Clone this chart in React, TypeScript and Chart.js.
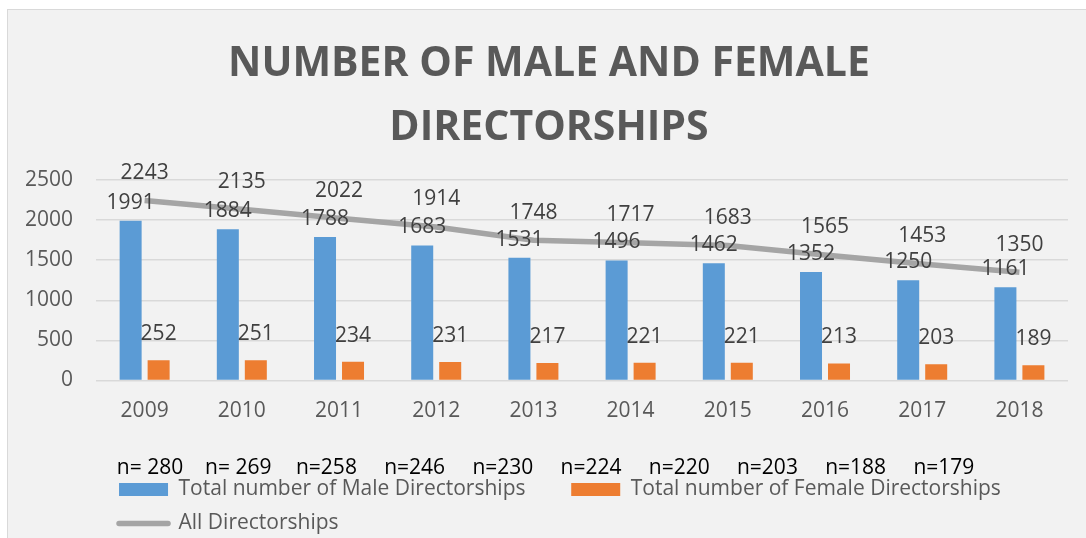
import React, { useEffect, useRef } from 'react';
import { Chart, registerables } from 'chart.js';

Chart.register(...registerables);

const years = ['2009', '2010', '2011', '2012', '2013', '2014', '2015', '2016', '2017', '2018'];
const maleDirectorships = [1991, 1884, 1788, 1683, 1531, 1496, 1462, 1352, 1250, 1161];
const femaleDirectorships = [252, 251, 234, 231, 217, 221, 221, 213, 203, 189];
const allDirectorships = [2243, 2135, 2022, 1914, 1748, 1717, 1683, 1565, 1453, 1350];
const companyCounts = ['n= 280', 'n= 269', 'n=258', 'n=246', 'n=230', 'n=224', 'n=220', 'n=203', 'n=188', 'n=179'];
const seriesNames = [
  'Total number of Male Directorships',
  'Total number of Female Directorships',
  'All Directorships',
];
const titleLines = ['NUMBER OF MALE AND FEMALE', 'DIRECTORSHIPS'];
const yMin = 0;
const yMax = 2500;
const yStep = 500;

const FONT = "'Open Sans', sans-serif";
const TEXT = '#595959';
const LABEL = '#404040';
const BLUE = '#5B9BD5';
const ORANGE = '#ED7D31';
const GRAY = '#A5A5A5';

const valueLabels = {
  id: 'valueLabels',
  afterDatasetsDraw(chart: any) {
    const ctx = chart.ctx;
    const offsets = [18, 26, 27.5];
    ctx.save();
    ctx.font = `21px ${FONT}`;
    ctx.fillStyle = LABEL;
    ctx.textAlign = 'center';
    ctx.textBaseline = 'middle';
    chart.data.datasets.forEach((ds: any, di: number) => {
      const meta = chart.getDatasetMeta(di);
      meta.data.forEach((el: any, i: number) => {
        ctx.fillText(String(ds.data[i]), el.x, el.y - offsets[di]);
      });
    });
    ctx.restore();
  },
};

const countLabels = {
  id: 'countLabels',
  afterDraw(chart: any) {
    const ctx = chart.ctx;
    const area = chart.chartArea;
    ctx.save();
    ctx.font = `21px ${FONT}`;
    ctx.fillStyle = '#000000';
    ctx.textAlign = 'center';
    ctx.textBaseline = 'middle';
    companyCounts.forEach((t, i) => {
      ctx.fillText(t, area.left + 54 + i * 88.2, area.bottom + 88);
    });
    ctx.restore();
  },
};

const boxShift = {
  id: 'boxShift',
  afterLayout(chart: any) {
    if (chart.legend) {
      chart.legend.left += 10;
      chart.legend.right += 10;
    }
    if (chart.titleBlock) {
      chart.titleBlock.left += 14;
      chart.titleBlock.right += 14;
    }
  },
};

export default function App() {
  const ref = useRef<HTMLCanvasElement | null>(null);

  useEffect(() => {
    if (!ref.current) return;
    const chart = new Chart(ref.current, {
      type: 'bar',
      data: {
        labels: years,
        datasets: [
          {
            type: 'bar',
            label: seriesNames[0],
            data: maleDirectorships,
            backgroundColor: BLUE,
            categoryPercentage: 0.576,
            barPercentage: 0.786,
          },
          {
            type: 'bar',
            label: seriesNames[1],
            data: femaleDirectorships,
            backgroundColor: ORANGE,
            categoryPercentage: 0.576,
            barPercentage: 0.786,
          },
          {
            type: 'line',
            label: seriesNames[2],
            data: allDirectorships,
            borderColor: GRAY,
            backgroundColor: GRAY,
            borderWidth: 5.5,
            pointRadius: 0,
            tension: 0,
            fill: false,
          } as any,
        ],
      },
      options: {
        responsive: false,
        animation: false,
        layout: { padding: { top: 10, left: 2, right: 18, bottom: 0 } },
        scales: {
          x: {
            grid: { display: false, drawTicks: false },
            border: { display: false },
            ticks: { color: TEXT, font: { family: FONT, size: 21 }, padding: 18 },
            afterFit(scale: any) {
              scale.height += 24.3;
            },
          },
          y: {
            min: yMin,
            max: yMax,
            ticks: {
              stepSize: yStep,
              color: TEXT,
              font: { family: FONT, size: 21 },
              padding: 23,
              callback: (v: any) => String(v),
            },
            grid: { color: '#D9D9D9', lineWidth: 1.5, drawTicks: false },
            border: { display: false },
          },
        },
        plugins: {
          title: {
            display: true,
            text: titleLines,
            color: TEXT,
            font: { family: FONT, size: 41, weight: 'bold', lineHeight: 1.56 },
            padding: { top: 22, bottom: 20 },
          },
          legend: {
            display: true,
            position: 'bottom',
            align: 'start',
            fullSize: false,
            labels: {
              color: TEXT,
              font: { family: FONT, size: 21 },
              padding: 13,
              usePointStyle: true,
              pointStyleWidth: 49,
              boxWidth: 49,
              boxHeight: 13,
              generateLabels(chart: any) {
                const items = (Chart.defaults.plugins.legend.labels as any).generateLabels(chart);
                return items.map((it: any, i: number) => {
                  if (i === 2) {
                    return { ...it, pointStyle: 'line', lineWidth: 5.5, strokeStyle: GRAY, fillStyle: GRAY, lineCap: 'round' };
                  }
                  return {
                    ...it,
                    text: i === 0 ? it.text + '      ' : it.text,
                    pointStyle: 'rect',
                    lineWidth: 0,
                  };
                });
              },
            },
          },
          tooltip: { enabled: false },
        },
      },
      plugins: [valueLabels, countLabels, boxShift],
    } as any);
    return () => chart.destroy();
  }, []);

  return (
    <div style={{ position: 'fixed', left: 0, top: 0, width: 1086, height: 538, overflow: 'hidden', background: '#ffffff' }}>
      <div
        style={{
          position: 'absolute',
          left: 7,
          top: 9,
          width: 1100,
          height: 560,
          background: '#F2F2F2',
          border: '1px solid #D9D9D9',
          boxSizing: 'border-box',
        }}
      />
      <canvas ref={ref} width={1086} height={544} style={{ position: 'absolute', left: 0, top: 0 }} />
    </div>
  );
}
